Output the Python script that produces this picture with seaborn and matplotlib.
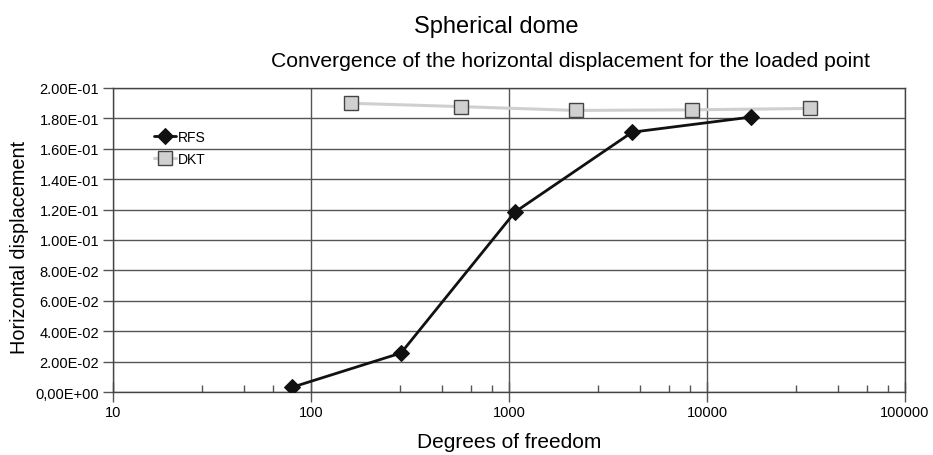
import numpy as np
import pandas as pd
import matplotlib
matplotlib.use("Agg")
import matplotlib.pyplot as plt
import matplotlib.ticker as mticker
import seaborn as sns

# Data
dof_rfs = [80, 285, 1072, 4190, 16610]
disp_rfs = [0.0031, 0.0257, 0.1184, 0.1709, 0.1808]
dof_dkt = [160, 574, 2172, 8444, 33290]
disp_dkt = [0.1899, 0.1877, 0.1852, 0.1856, 0.1865]
series_names = ["RFS", "DKT"]
y_ticks = [0.00, 0.02, 0.04, 0.06, 0.08, 0.10, 0.12, 0.14, 0.16, 0.18, 0.20]
x_ticks = [10, 100, 1000, 10000, 100000]

sns.set_style("white")
plt.rcParams["font.family"] = ["Liberation Sans", "DejaVu Sans"]
plt.rcParams["text.color"] = "black"
plt.rcParams["axes.labelcolor"] = "black"
plt.rcParams["xtick.labelcolor"] = "black"
plt.rcParams["ytick.labelcolor"] = "black"

df = pd.concat([
    pd.DataFrame({"dof": dof_rfs, "disp": disp_rfs, "series": series_names[0]}),
    pd.DataFrame({"dof": dof_dkt, "disp": disp_dkt, "series": series_names[1]}),
])

fig = plt.figure(figsize=(9.33, 4.56), dpi=100)
ax = fig.add_axes([0.1211, 0.138, 0.8489, 0.667])

grid_c = "#555555"
for yv in y_ticks:
    ax.axhline(yv, color=grid_c, lw=1, zorder=0)
for xv in x_ticks:
    ax.axvline(xv, color=grid_c, lw=1, zorder=0)

sns.lineplot(data=df[df.series == "RFS"], x="dof", y="disp", ax=ax,
             color="#111111", lw=2, marker="D", markersize=8,
             markerfacecolor="#111111", markeredgecolor="#111111",
             label="RFS", zorder=3)
sns.lineplot(data=df[df.series == "DKT"], x="dof", y="disp", ax=ax,
             color="#cfcfcf", lw=2.2, marker="s", markersize=10,
             markerfacecolor="#d0d0d0", markeredgecolor="#444444",
             markeredgewidth=1, label="DKT", zorder=2)

ax.set_xscale("log")
ax.set_xlim(10, 100000)
ax.set_ylim(0, 0.2)
ax.set_xticks(x_ticks)
ax.xaxis.set_major_formatter(mticker.FuncFormatter(lambda v, p: f"{int(round(v))}"))
minor = []
for dec in [10, 100, 1000, 10000]:
    for k in range(1, 5):
        minor.append(dec * (1 + 1.8 * k))
ax.xaxis.set_minor_locator(mticker.FixedLocator(minor))
ax.xaxis.set_minor_formatter(mticker.NullFormatter())

ax.set_yticks(y_ticks)
ax.yaxis.set_major_formatter(mticker.FuncFormatter(
    lambda v, p: "0,00E+00" if abs(v) < 1e-12 else f"{v:.2E}"))

ax.tick_params(axis="x", which="major", direction="inout", length=14, width=1,
               color="#555555", labelsize=10.5, pad=2, bottom=True)
ax.tick_params(axis="x", which="minor", direction="in", length=5, width=1,
               color="#555555", bottom=True)
ax.tick_params(axis="y", which="major", direction="out", length=7, width=1,
               color="#555555", labelsize=10.5, pad=3, left=True)

for s in ax.spines.values():
    s.set_color("#444444")
    s.set_linewidth(1)

ax.set_xlabel("Degrees of freedom", fontsize=15, labelpad=10)
ax.set_ylabel("Horizontal displacement", fontsize=14.3)
ax.yaxis.set_label_coords(-0.106, 0.48)

fig.text(0.532, 0.94, "Spherical dome", fontsize=17, ha="center", va="center")
fig.text(0.611, 0.865, "Convergence of the horizontal displacement for the loaded point",
         fontsize=15.2, ha="center", va="center")

leg = ax.legend(loc="upper left", bbox_to_anchor=(0.045, 0.88), frameon=False,
                fontsize=10, handlelength=1.6, handletextpad=0.1,
                labelspacing=0.55, borderaxespad=0)

fig.savefig("out.png", dpi=100)
